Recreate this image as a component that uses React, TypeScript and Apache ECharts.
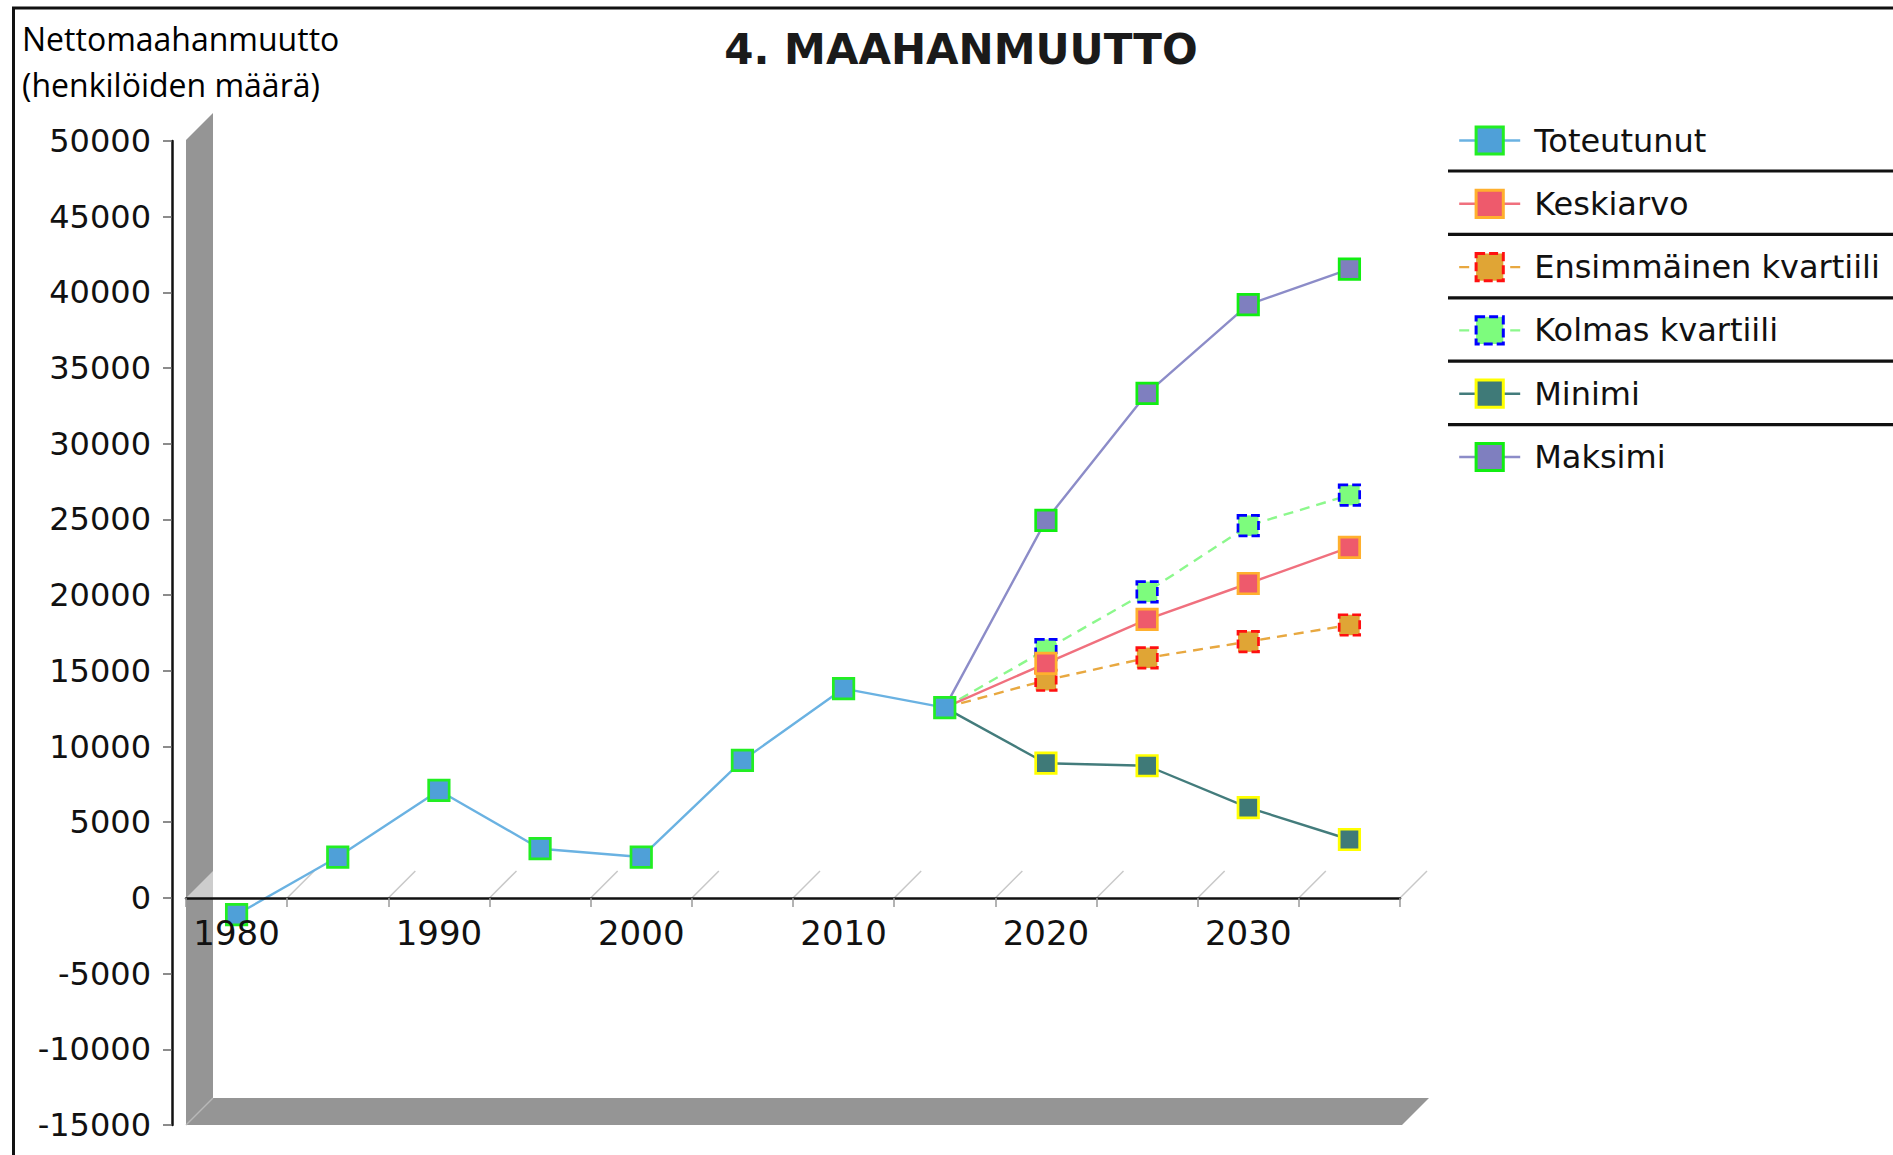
import React, { useEffect, useRef } from "react";
import * as echarts from "echarts";

// ---------- data ----------
const years = ["1980", "1985", "1990", "1995", "2000", "2005", "2010", "2015", "2020", "2025", "2030", "2035"];
const toteutunut = [-1100, 2700, 7100, 3250, 2700, 9080, 13830, 12570];
const keskiarvo = [15500, 18400, 20770, 23150];
const ensimmainenKvartiili = [14380, 15860, 16930, 18030];
const kolmasKvartiili = [16400, 20220, 24590, 26610];
const minimi = [8900, 8730, 5970, 3860];
const maksimi = [24940, 33330, 39190, 41530];
const yMin = -15000;
const yMax = 50000;
const yStep = 5000;
const legendOrder = ["Toteutunut", "Keskiarvo", "Ensimmäinen kvartiili", "Kolmas kvartiili", "Minimi", "Maksimi"];
const titleText = "4. MAAHANMUUTTO";
const yNameLines = ["Nettomaahanmuutto", "(henkilöiden määrä)"];

// ---------- styles ----------
const FONT = "DejaVu Sans";
const GRID = { left: 186, top: 141, width: 1214, height: 984 };
const DEPTH = 27;
const WALL = "#959595";

type Sty = { line: string; fill: string; border: string; lineDash: any; borderDash: any };
const styles: Record<string, Sty> = {
  Toteutunut: { line: "#6ab2e2", fill: "#4fa0d8", border: "#22ee22", lineDash: "solid", borderDash: "solid" },
  Keskiarvo: { line: "#f0707e", fill: "#ee5a6c", border: "#ffb02e", lineDash: "solid", borderDash: "solid" },
  "Ensimmäinen kvartiili": { line: "#e8a840", fill: "#e0a535", border: "#ff1010", lineDash: [10, 7], borderDash: [9, 4] },
  "Kolmas kvartiili": { line: "#8cf88c", fill: "#7dfc7d", border: "#0000ff", lineDash: [10, 7], borderDash: [9, 4] },
  Minimi: { line: "#437c7c", fill: "#3f7a78", border: "#ffff00", lineDash: "solid", borderDash: "solid" },
  Maksimi: { line: "#8c8cc8", fill: "#7f7fbf", border: "#11ee11", lineDash: "solid", borderDash: "solid" },
};

function projection(values: number[]) {
  const startIdx = toteutunut.length - 1;
  const data: any[] = [];
  for (let i = 0; i < startIdx; i++) data.push(null);
  data.push({ value: toteutunut[startIdx], symbol: "none" });
  values.forEach((v) => data.push(v));
  return data;
}

function makeSeries(name: string, data: any[], z: number) {
  const s = styles[name];
  return {
    name,
    type: "line",
    data,
    z,
    symbol: "rect",
    symbolSize: 20.5,
    showAllSymbol: true,
    connectNulls: false,
    lineStyle: { color: s.line, width: 2.4, type: s.lineDash },
    itemStyle: { color: s.fill, borderColor: s.border, borderWidth: 2.7, borderType: s.borderDash },
    emphasis: { disabled: true },
  };
}

export default function App() {
  const ref = useRef<HTMLDivElement>(null);

  useEffect(() => {
    const chart = echarts.init(ref.current!, null, { renderer: "svg" });

    const totData: any[] = years.map((_, i) => (i < toteutunut.length ? toteutunut[i] : null));
    const zeroOffset = -GRID.height * (0 - yMin) / (yMax - yMin);

    const option: any = {
      animation: false,
      backgroundColor: "#ffffff",
      grid: { ...GRID, containLabel: false, outerBoundsMode: "none" },
      xAxis: {
        type: "category",
        data: years,
        boundaryGap: true,
        position: "bottom",
        offset: zeroOffset,
        z: 10,
        axisLine: { onZero: false, lineStyle: { color: "#111", width: 2.5 } },
        axisTick: { show: true, interval: 0, length: 9, lineStyle: { color: "#9a9a9a", width: 1.5 } },
        axisLabel: { interval: 1, fontFamily: FONT, fontSize: 34, color: "#111", margin: 18 },
        splitLine: { show: false },
      },
      yAxis: {
        type: "value",
        min: yMin,
        max: yMax,
        interval: yStep,
        offset: 14,
        axisLine: { show: true, onZero: false, lineStyle: { color: "#111", width: 2.5 } },
        axisTick: { show: true, length: 9, lineStyle: { color: "#666", width: 1.5 } },
        axisLabel: { fontFamily: FONT, fontSize: 32, color: "#111", margin: 21, formatter: (v: number) => String(v) },
        splitLine: { show: false },
      },
      legend: {
        orient: "vertical",
        left: 1453,
        top: 118.5,
        itemWidth: 61,
        itemHeight: 34,
        itemGap: 29.3,
        selectedMode: false,
        textStyle: { fontFamily: FONT, fontSize: 32, color: "#111", lineHeight: 34, padding: [0, 0, 0, 9] },
        data: legendOrder.map((n) => ({
          name: n,
          itemStyle: { borderWidth: 3, borderType: styles[n].borderDash },
          lineStyle: { width: 2.4 },
        })),
      },
      series: [
        makeSeries("Toteutunut", totData, 4),
        makeSeries("Minimi", projection(minimi), 2),
        makeSeries("Maksimi", projection(maksimi), 2),
        makeSeries("Ensimmäinen kvartiili", projection(ensimmainenKvartiili), 2),
        makeSeries("Kolmas kvartiili", projection(kolmasKvartiili), 2),
        makeSeries("Keskiarvo", projection(keskiarvo), 3),
      ],
    };
    chart.setOption(option);

    const zeroY = chart.convertToPixel({ yAxisIndex: 0 }, 0) as number;
    const L = GRID.left;
    const R = GRID.left + GRID.width;
    const T = GRID.top;
    const B = GRID.top + GRID.height;
    const cw = GRID.width / years.length;

    const elements: any[] = [];
    // outer frame
    elements.push({ type: "line", z: 1, shape: { x1: 12, y1: 8, x2: 1900, y2: 8 }, style: { stroke: "#111", lineWidth: 3 } });
    elements.push({ type: "line", z: 1, shape: { x1: 13.5, y1: 8, x2: 13.5, y2: 1160 }, style: { stroke: "#111", lineWidth: 3 } });
    // 3D wall (left)
    elements.push({
      type: "polygon", z: 1,
      shape: { points: [[L, B], [L, T - 1], [L + DEPTH, T - 1 - DEPTH], [L + DEPTH, B - DEPTH]] },
      style: { fill: WALL },
    });
    // 3D floor slab (bottom)
    elements.push({
      type: "polygon", z: 1,
      shape: { points: [[L, B], [R + 2, B], [R + 2 + DEPTH, B - DEPTH], [L + DEPTH, B - DEPTH]] },
      style: { fill: WALL },
    });
    elements.push({ type: "line", z: 1, shape: { x1: L, y1: B, x2: L + DEPTH, y2: B - DEPTH }, style: { stroke: "#b8b8b8", lineWidth: 1.5 } });
    // zero plane cut through wall
    elements.push({
      type: "polygon", z: 1,
      shape: { points: [[L, zeroY], [L + DEPTH, zeroY - DEPTH], [L + DEPTH, zeroY]] },
      style: { fill: "#cdcdcd" },
    });
    // zero-plane diagonal grid lines
    for (let k = 1; k <= years.length; k++) {
      const x = L + k * cw;
      elements.push({
        type: "line", z: 1,
        shape: { x1: x, y1: zeroY, x2: x + DEPTH, y2: zeroY - DEPTH },
        style: { stroke: "#c8c8c8", lineWidth: 1.5 },
      });
    }
    // legend separators
    for (let i = 0; i < legendOrder.length - 1; i++) {
      const y = 171 + i * 63.4;
      elements.push({ type: "line", z: 1, shape: { x1: 1448, y1: y, x2: 1900, y2: y }, style: { stroke: "#111", lineWidth: 3.2 } });
    }
    // title
    elements.push({
      type: "text", z: 5, x: 961, y: 49,
      style: { text: titleText, fontFamily: FONT, fontWeight: "bold", fontSize: 42, fill: "#1a1a1a", align: "center", verticalAlign: "middle" },
    });
    // y axis name
    yNameLines.forEach((t, i) => {
      elements.push({
        type: "text", z: 5, x: 22, y: 38 + i * 46,
        style: { text: t, fontFamily: "Open Sans", fontSize: 32, fill: "#000", align: "left", verticalAlign: "middle" },
      });
    });

    chart.setOption({ graphic: { elements } });

    return () => chart.dispose();
  }, []);

  return <div ref={ref} style={{ position: "fixed", left: 0, top: 0, width: 1893, height: 1155 }} />;
}
